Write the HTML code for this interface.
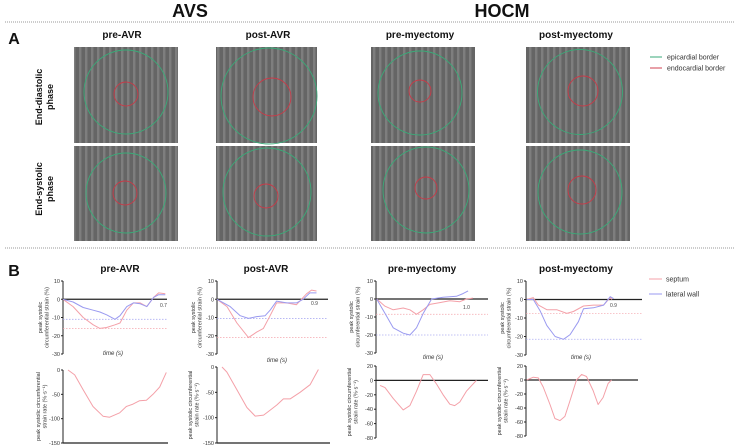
<!DOCTYPE html>
<html><head><meta charset="utf-8">
<style>
html,body{margin:0;padding:0;background:#fff;}
body{width:738px;height:448px;position:relative;overflow:hidden;font-family:"Liberation Sans",sans-serif;}
svg{position:absolute;left:0;top:0;}
</style></head>
<body>
<svg id="fig" width="738" height="448" viewBox="0 0 738 448">
<defs>
<pattern id="stripes" width="6" height="8" patternUnits="userSpaceOnUse">
<rect width="6" height="8" fill="#656565"/>
<rect x="1" width="2" height="8" fill="#7e7e7e"/>
<rect x="3" width="1" height="8" fill="#707070"/>
</pattern>
</defs>
<g font-weight="bold" fill="#111" text-anchor="middle">
<text x="190" y="17" font-size="18">AVS</text>
<text x="502" y="17" font-size="18">HOCM</text>
<text x="14" y="44" font-size="16">A</text>
<text x="14" y="276" font-size="16">B</text>
<text x="122" y="38" font-size="10">pre-AVR</text>
<text x="268" y="38" font-size="10">post-AVR</text>
<text x="420" y="38" font-size="10">pre-myectomy</text>
<text x="576" y="38" font-size="10">post-myectomy</text>
<text x="120" y="272" font-size="10">pre-AVR</text>
<text x="266" y="272" font-size="10">post-AVR</text>
<text x="422" y="272" font-size="10">pre-myectomy</text>
<text x="576" y="272" font-size="10">post-myectomy</text>
<g font-size="9" transform="translate(45,97) rotate(-90)"><text x="0" y="-3">End-diastolic</text><text x="0" y="8">phase</text></g>
<g font-size="9" transform="translate(45,189) rotate(-90)"><text x="0" y="-3">End-systolic</text><text x="0" y="8">phase</text></g>
</g>
<line x1="5" y1="22" x2="735" y2="22" stroke="#999" stroke-width="1" stroke-dasharray="1,1"/>
<line x1="5" y1="248" x2="735" y2="248" stroke="#999" stroke-width="1" stroke-dasharray="1,1"/>
<g id="images"></g>
<g font-size="7" fill="#333">
<line x1="650" y1="57" x2="662" y2="57" stroke="#3aaa78"/>
<text x="667" y="59.5">epicardial border</text>
<line x1="650" y1="68" x2="662" y2="68" stroke="#d04050"/>
<text x="667" y="70.5">endocardial border</text>
<line x1="649" y1="279" x2="662" y2="279" stroke="#f4a0a8"/>
<text x="666" y="281.5">septum</text>
<line x1="649" y1="294" x2="662" y2="294" stroke="#9a9af0"/>
<text x="666" y="296.5">lateral wall</text>
</g>
<g id="charts"></g>
</svg>
<script>
const preAVR_sep_t = [0,.097,.194,.29,.355,.419,.5,.548,.613,.677,.742,.806,.871,.919,.984];
const preAVR_sep_v = [0,-4,-10,-14,-16,-15.5,-14,-13,-6,-2,-2,-4,1,3.5,3];
const preAVR_lat_t = [0,.097,.194,.29,.355,.419,.5,.548,.613,.677,.742,.806,.871,.919,.984];
const preAVR_lat_v = [0,-1.5,-4.5,-6,-7,-8.5,-11,-9,-4,-2,-2.5,-4,1,2.5,2.5];
const preAVR_rate_t = [.048,.111,.19,.286,.381,.444,.54,.603,.667,.73,.794,.857,.921,.984];
const preAVR_rate_v = [0,-10,-40,-75,-95,-97,-88,-75,-70,-63,-62,-50,-35,-5];
const postAVR_sep_t = [0,.09,.179,.284,.358,.418,.478,.537,.627,.716,.806,.851,.896];
const postAVR_sep_v = [0,-4,-13,-21,-18,-16,-9,-2,-2,-3,3,5,4.5];
const postAVR_lat_t = [0,.119,.209,.284,.358,.433,.478,.537,.627,.716,.776,.836,.896];
const postAVR_lat_v = [0,-4,-9,-10.5,-9.5,-9,-6,-1,-2,-2,0,3.5,3.5];
const postAVR_rate_t = [.044,.088,.176,.265,.338,.412,.471,.529,.588,.647,.735,.824,.897];
const postAVR_rate_v = [0,-10,-45,-80,-97,-95,-85,-75,-63,-63,-50,-35,-5];
const preMy_sep_t = [.006,.08,.154,.243,.303,.362,.421,.481,.57,.659,.748,.807,.866];
const preMy_sep_v = [0,-4,-6,-5,-6,-8.5,-6,-3,-2,-1,-1.5,0,0.5];
const preMy_lat_t = [.006,.08,.154,.243,.303,.362,.421,.496,.599,.718,.777,.822];
const preMy_lat_v = [0,-8,-16,-19,-20,-16,-8,0,1,1.5,3,4.5];
const preMy_rate_t = [.036,.08,.154,.243,.303,.362,.421,.481,.54,.599,.659,.703,.748,.807,.896];
const preMy_rate_v = [-7,-10,-25,-41,-35,-15,8,8,-5,-20,-33,-35,-30,-15,0];
const postMy_sep_t = [.006,.063,.107,.179,.265,.352,.409,.496,.582,.669,.726,.741];
const postMy_sep_v = [0,1,-3,-5.5,-5.5,-7.5,-6.5,-3.5,-3,-3,1,0];
const postMy_lat_t = [.006,.063,.121,.179,.251,.323,.38,.452,.496,.582,.669,.726,.755];
const postMy_lat_v = [0,0,-6,-14,-20,-21.5,-19,-12,-5,-4.5,-3,1.5,0.5];
const postMy_rate_t = [.006,.065,.11,.154,.214,.258,.303,.347,.392,.451,.496,.54,.599,.644,.688,.733,.763];
const postMy_rate_v = [0,4,3,-10,-35,-55,-58,-52,-30,0,8,5,-15,-35,-25,-5,0];
const strainTicks = [10,0,-10,-20,-30];
const rateTicksAVR = [0,-50,-100,-150];
const rateTicksMy = [20,0,-20,-40,-60,-80];
const peakLabels = ["0.7","0.9","1.0","0.9"];

const NS = "http://www.w3.org/2000/svg";
const SEP = "#f4a0a8", LAT = "#9a9af0";
function mk(tag, attrs, parent){const e=document.createElementNS(NS,tag);for(const k in attrs)e.setAttribute(k,attrs[k]);parent.appendChild(e);return e;}

const imgs = document.getElementById('images');
const imgCols = [[74,178],[216,317],[371,475],[526,630]];
const imgRows = [[47,143],[146,241]];
const circles = [
 [[126,92,42,126,94,12],[126,193,40,125,193,12]],
 [[269,96,48,272,97,19],[267,192,44,266,196,12]],
 [[420,93,42,420,91,11],[426,190,43,426,188,11]],
 [[580,92,42.5,583,91,15],[580,192,42,582,190,14]]
];
imgCols.forEach((c,i)=>imgRows.forEach((r,j)=>{
  const rect = mk('rect',{x:c[0],y:r[0],width:c[1]-c[0],height:r[1]-r[0],fill:'url(#stripes)'},imgs);
  
  
  const cc = circles[i][j];
  const g = mk('circle',{cx:cc[0],cy:cc[1],r:cc[2],fill:'none',stroke:'#3aaa78','stroke-width':0.9},imgs);
  
  
  const rd = mk('circle',{cx:cc[3],cy:cc[4],r:cc[5],fill:'none',stroke:'#c83a48','stroke-width':0.9},imgs);
  
  
}));

const charts = document.getElementById('charts');
function chart(cfg){
  const g = mk('g',{},charts);
  
  
  const ys = v => cfg.py0 + (v-cfg.v0)*(cfg.py1-cfg.py0)/(cfg.v1-cfg.v0);
  const xs = t => cfg.x0 + t*(cfg.x1-cfg.x0);
  const yTop = ys(cfg.ticks[0]), yBot = ys(cfg.ticks[cfg.ticks.length-1]);
  const ax = mk('line',{x1:cfg.x0,y1:yTop,x2:cfg.x0,y2:yBot,stroke:'#222','stroke-width':1},g);
  
  
  cfg.ticks.forEach(v=>{
    mk('line',{x1:cfg.x0-2,y1:ys(v),x2:cfg.x0,y2:ys(v),stroke:'#222'},g);
    const t = mk('text',{x:cfg.x0-3,y:ys(v)+2,'font-size':5.5,'text-anchor':'end',fill:'#333'},g);
    t.textContent=v;
    
    
  });
  const xl = cfg.xAxisAtMin ? yBot : ys(0);
  const xa = mk('line',{x1:cfg.x0,y1:xl,x2:cfg.x1,y2:xl,stroke:'#222','stroke-width':1.2},g);
  
  
  (cfg.dashes||[]).forEach(d=>{
    const l = mk('line',{x1:cfg.x0,y1:ys(d[0]),x2:cfg.x1,y2:ys(d[0]),stroke:d[1],'stroke-width':0.8,'stroke-dasharray':'1.5,1.5',opacity:0.8},g);
    
    
  });
  cfg.series.forEach(s=>{
    const pts = s.t.map((t,i)=>xs(t).toFixed(1)+','+ys(s.v[i]).toFixed(1)).join(' ');
    const p = mk('polyline',{points:pts,fill:'none',stroke:s.c,'stroke-width':1,'stroke-linejoin':'round'},g);
    
    
  });
  if(cfg.peak){
    const t = mk('text',{x:cfg.peak[0],y:cfg.peak[1],'font-size':5,fill:'#444'},g);
    t.textContent=cfg.peak[2];
    
    
  }
  if(cfg.timeLabel){
    const t = mk('text',{x:cfg.timeLabel[0],y:cfg.timeLabel[1],'font-size':6,'font-style':'italic','text-anchor':'middle',fill:'#333'},g);
    t.textContent='time (s)';
    
    
  }
  const tg = mk('g',{transform:`translate(${cfg.titleX},${(yTop+yBot)/2}) rotate(-90)`,'font-size':5.5,'text-anchor':'middle',fill:'#333'},g);
  
  
  cfg.title.forEach((line,i)=>{const t=mk('text',{x:0,y:i*6.5},tg);t.textContent=line;});
}
const sTitle = ['peak systolic','circumferential strain (%)'];
const rTitle = ['peak systolic circumferential','strain rate (%·s\u207B\u00B9)'];
chart({name:'pre-avr-strain',x0:63,x1:167,v0:10,py0:281,v1:-30,py1:354,ticks:strainTicks,
  series:[{t:preAVR_sep_t,v:preAVR_sep_v,c:SEP,n:'septum-line'},{t:preAVR_lat_t,v:preAVR_lat_v,c:LAT,n:'lateral-wall-line'}],
  dashes:[[Math.min(...preAVR_lat_v),LAT],[Math.min(...preAVR_sep_v),SEP]],peak:[160,307,peakLabels[0]],timeLabel:[113,355],titleX:42,title:sTitle});
chart({name:'pre-avr-strain-rate',x0:63,x1:168,v0:0,py0:370,v1:-150,py1:443,ticks:rateTicksAVR,xAxisAtMin:true,
  series:[{t:preAVR_rate_t,v:preAVR_rate_v,c:SEP,n:'septum-rate-line'}],titleX:40,title:rTitle});
chart({name:'post-avr-strain',x0:217,x1:328,v0:10,py0:281,v1:-30,py1:354,ticks:strainTicks,
  series:[{t:postAVR_sep_t,v:postAVR_sep_v,c:SEP,n:'septum-line'},{t:postAVR_lat_t,v:postAVR_lat_v,c:LAT,n:'lateral-wall-line'}],
  dashes:[[Math.min(...postAVR_lat_v),LAT],[Math.min(...postAVR_sep_v),SEP]],peak:[311,305,peakLabels[1]],timeLabel:[277,362],titleX:195,title:sTitle});
chart({name:'post-avr-strain-rate',x0:217,x1:330,v0:0,py0:367,v1:-150,py1:443,ticks:rateTicksAVR,xAxisAtMin:true,
  series:[{t:postAVR_rate_t,v:postAVR_rate_v,c:SEP,n:'septum-rate-line'}],titleX:192,title:rTitle});
chart({name:'pre-myectomy-strain',x0:376,x1:488,v0:10,py0:281,v1:-30,py1:353,ticks:strainTicks,
  series:[{t:preMy_sep_t,v:preMy_sep_v,c:SEP,n:'septum-line'},{t:preMy_lat_t,v:preMy_lat_v,c:LAT,n:'lateral-wall-line'}],
  dashes:[[Math.min(...preMy_sep_v),SEP],[Math.min(...preMy_lat_v),LAT]],peak:[463,309,peakLabels[2]],timeLabel:[433,359],titleX:353,title:sTitle});
chart({name:'pre-myectomy-strain-rate',x0:376,x1:488,v0:20,py0:366,v1:-80,py1:438,ticks:rateTicksMy,
  series:[{t:preMy_rate_t,v:preMy_rate_v,c:SEP,n:'septum-rate-line'}],titleX:351,title:rTitle});
chart({name:'post-myectomy-strain',x0:526,x1:642,v0:10,py0:281,v1:-30,py1:355,ticks:strainTicks,
  series:[{t:postMy_sep_t,v:postMy_sep_v,c:SEP,n:'septum-line'},{t:postMy_lat_t,v:postMy_lat_v,c:LAT,n:'lateral-wall-line'}],
  dashes:[[Math.min(...postMy_sep_v),SEP],[Math.min(...postMy_lat_v),LAT]],peak:[610,307,peakLabels[3]],timeLabel:[581,359],titleX:504,title:sTitle});
chart({name:'post-myectomy-strain-rate',x0:526,x1:638,v0:20,py0:366,v1:-80,py1:436,ticks:rateTicksMy,
  series:[{t:postMy_rate_t,v:postMy_rate_v,c:SEP,n:'septum-rate-line'}],titleX:501,title:rTitle});
</script>
</body></html>
